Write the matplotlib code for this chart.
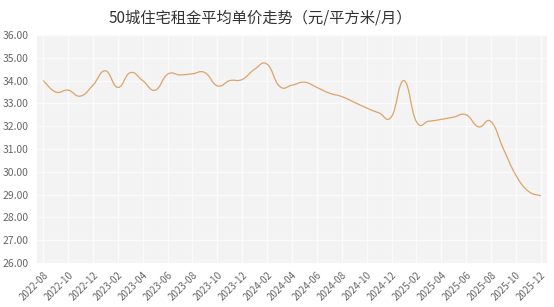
import matplotlib.pyplot as plt
import numpy as np
from matplotlib.path import Path
from matplotlib.patches import PathPatch

plt.rcParams['font.family'] = ['Noto Sans CJK SC', 'DejaVu Sans']

# 月份（2022-08 到 2025-12）
months = []
for yr in range(2022, 2026):
    for mo in range(1, 13):
        if (yr, mo) >= (2022, 8):
            months.append(f"{yr}-{mo:02d}")

# 平均单价（元/平方米/月）
rent = [34.00, 33.50, 33.58, 33.32, 33.80, 34.43, 33.70, 34.35, 34.00, 33.58,
        34.28, 34.25, 34.30, 34.35, 33.77, 34.00, 34.05, 34.50, 34.72, 33.75,
        33.80, 33.93, 33.70, 33.45, 33.30, 33.05, 32.80, 32.58, 32.42, 34.00,
        32.20, 32.22, 32.30, 32.40, 32.50, 31.97, 32.20, 31.00, 29.85, 29.15,
        28.95]

title = "50城住宅租金平均单价走势（元/平方米/月）"
yticks = np.arange(26, 36.01, 1)

fig = plt.figure(figsize=(5.54, 3.07), dpi=100, facecolor='white')
ax = fig.add_axes([37 / 554, 1 - 263 / 307, 510 / 554, 228 / 307])
ax.set_facecolor('#f3f3f3')

x = np.arange(len(rent))
y = np.array(rent)

# 平滑曲线：用贝塞尔控制点（类似 echarts smooth）
sm = 0.45
verts = [(x[0], y[0])]
codes = [Path.MOVETO]
for i in range(len(x) - 1):
    p0 = np.array([x[max(i - 1, 0)], y[max(i - 1, 0)]])
    p1 = np.array([x[i], y[i]])
    p2 = np.array([x[i + 1], y[i + 1]])
    p3 = np.array([x[min(i + 2, len(x) - 1)], y[min(i + 2, len(x) - 1)]])
    c1 = p1 + (p2 - p0) * sm / 2
    c2 = p2 - (p3 - p1) * sm / 2
    verts += [tuple(c1), tuple(c2), tuple(p2)]
    codes += [Path.CURVE4] * 3
ax.add_patch(PathPatch(Path(verts, codes), facecolor='none',
                       edgecolor='#dca46a', linewidth=0.9, zorder=3))

ax.set_xlim(-0.5, len(rent) - 0.5)
ax.set_ylim(26, 36)
ax.set_yticks(yticks)
ax.set_yticklabels([f"{v:.2f}" for v in yticks], fontsize=7.5, color='#666666')
ax.set_xticks(x[::2])
ax.set_xticklabels(months[::2], rotation=45, ha='right', rotation_mode='anchor',
                   fontsize=7, color='#666666')
ax.tick_params(length=0, pad=6)
ax.tick_params(axis='x', pad=5)

ax.grid(True, color='#fbfbfb', linewidth=0.9)
ax.set_axisbelow(True)
for s in ax.spines.values():
    s.set_visible(False)

fig.text(0.47, 1 - 18 / 307, title, ha='center', va='center',
         fontsize=11, color='#333333')

fig.savefig('out.png', dpi=100, facecolor='white')
